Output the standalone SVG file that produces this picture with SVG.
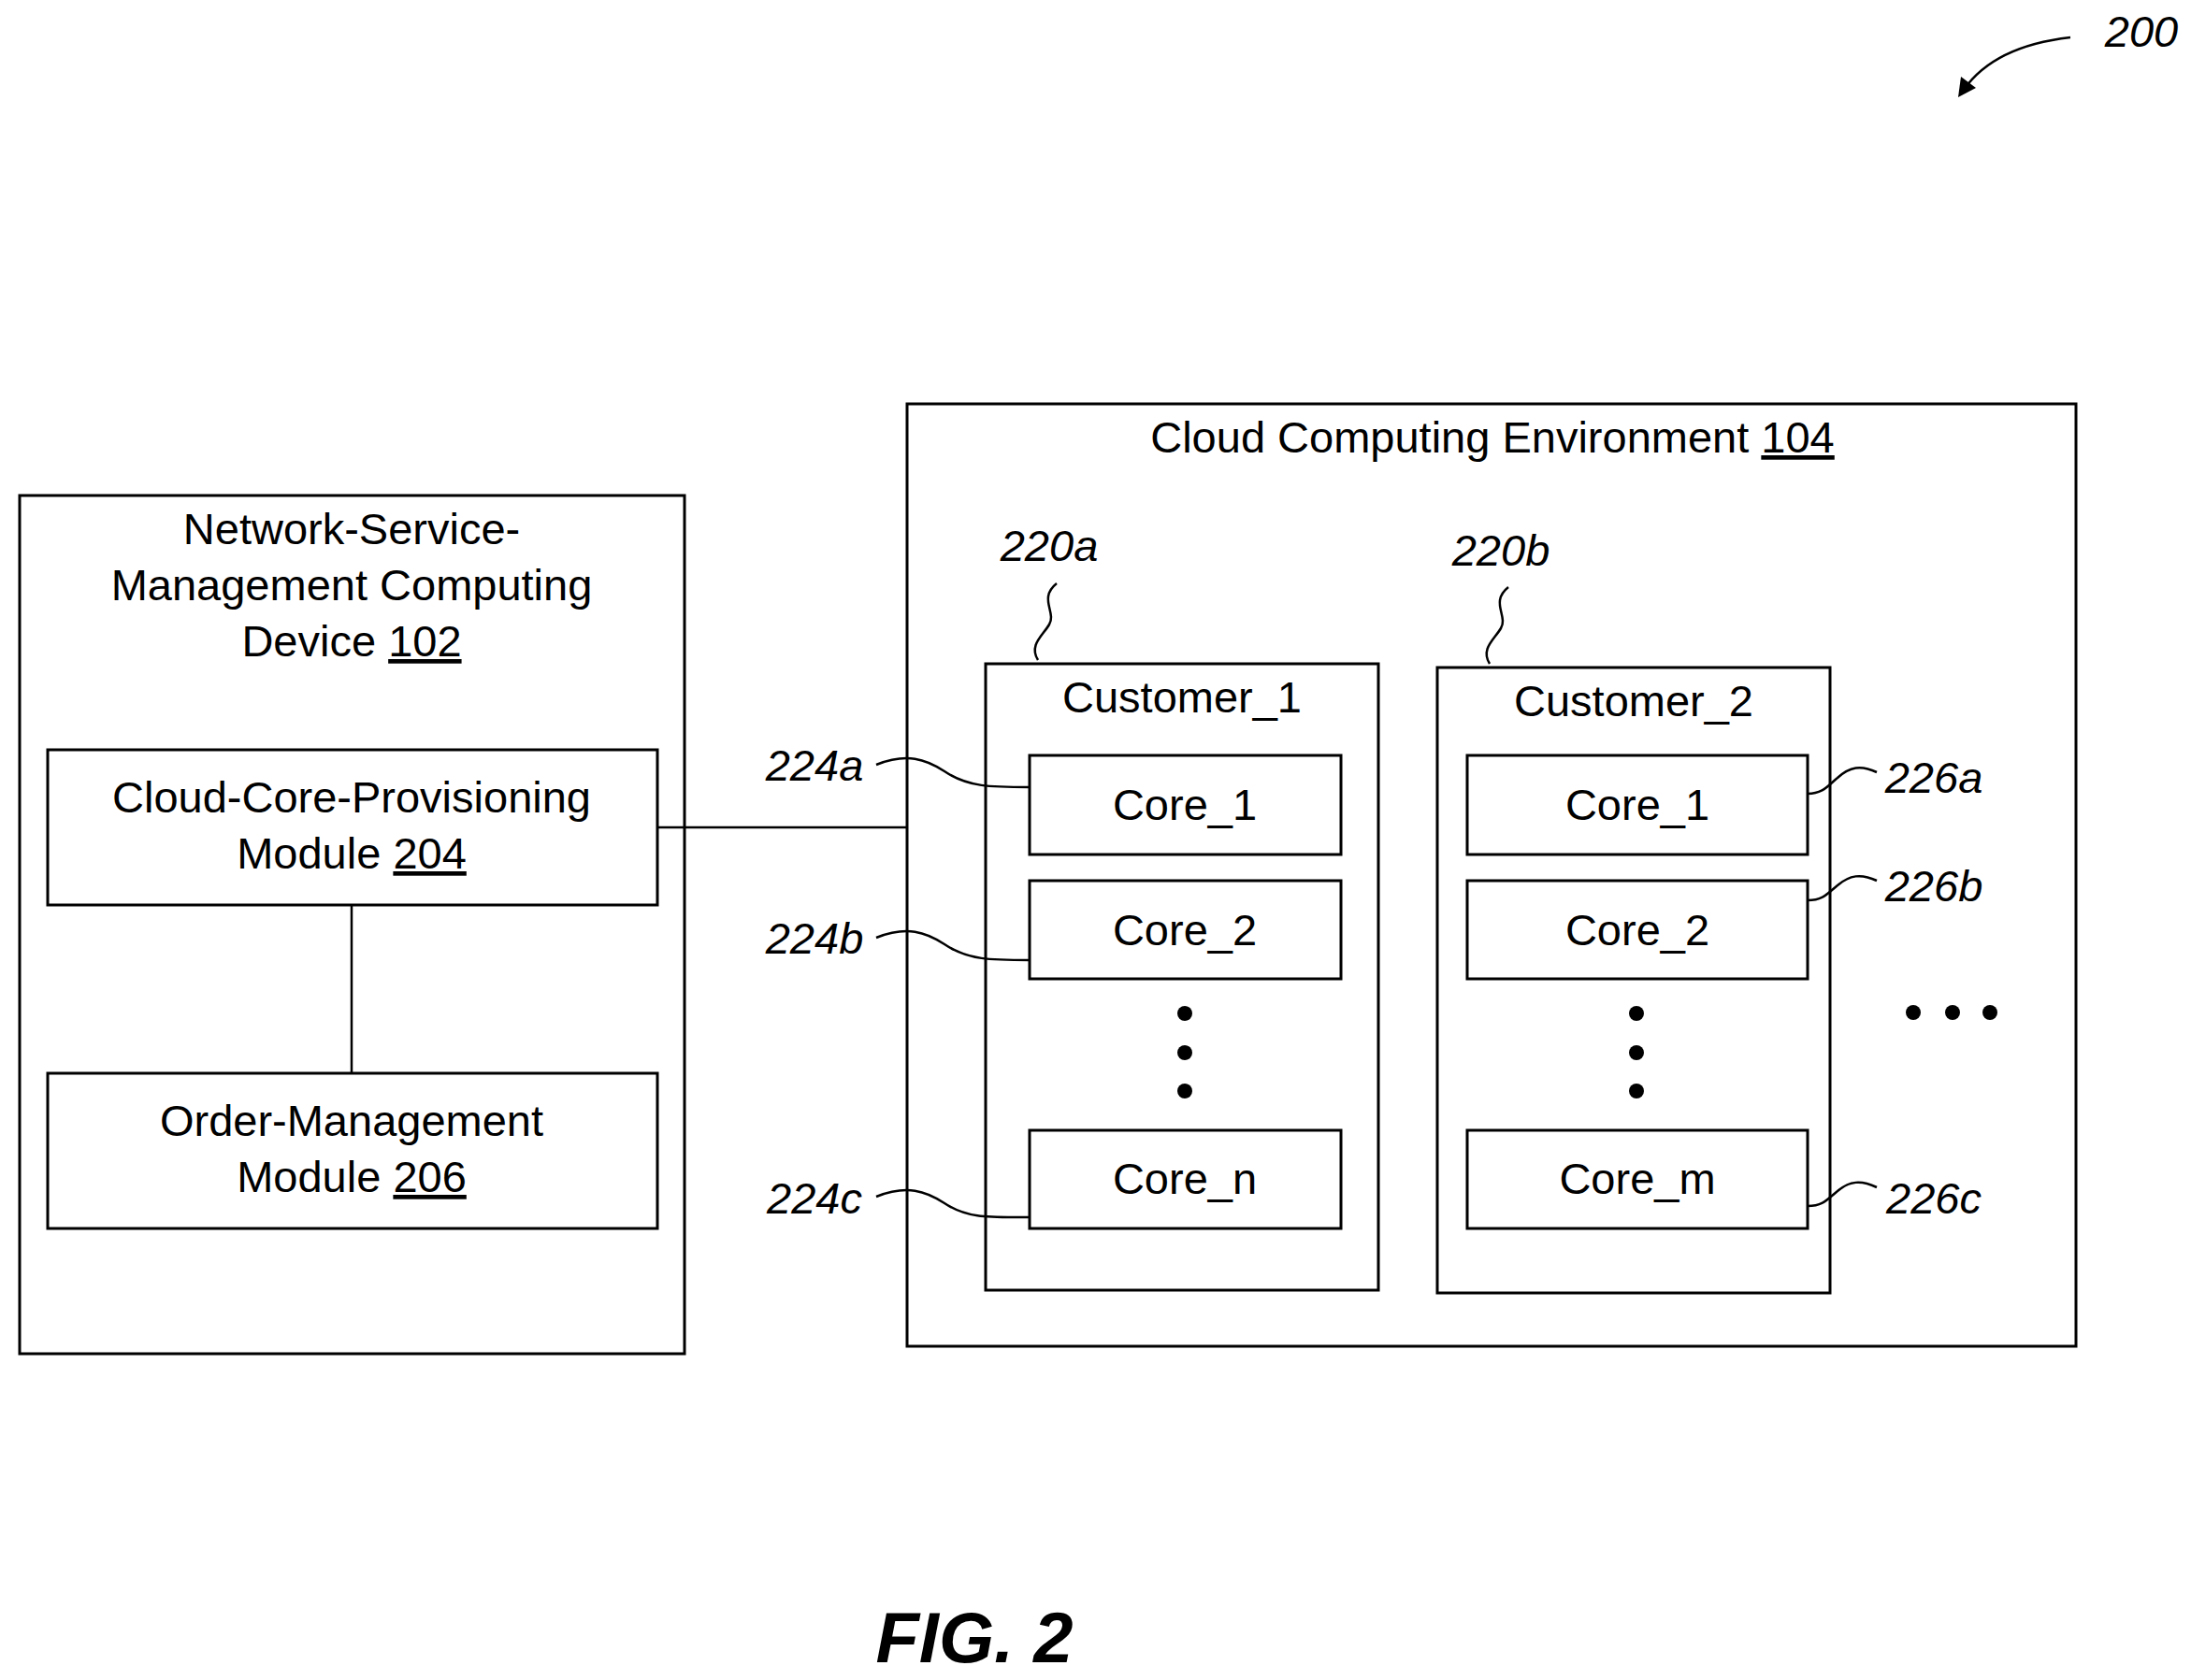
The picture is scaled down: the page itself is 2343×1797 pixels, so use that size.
<svg xmlns="http://www.w3.org/2000/svg" width="2343" height="1797" viewBox="0 0 2343 1797">
<style>
rect{fill:none;stroke:#000;stroke-width:3}
rect.bg{fill:#fff;stroke:none}
text{font-family:"Liberation Sans",Arial,sans-serif;font-size:47px;fill:#000;text-anchor:middle}
.l{font-style:italic}
.c path,.c line{fill:none;stroke:#000;stroke-width:2.5}
.c path.ah{fill:#000;stroke:none}
.u{text-decoration:underline}
</style>
<rect class="bg" width="2343" height="1797"/>
<g id="nsm">
<rect x="21" y="530" width="711" height="918"/>
<text x="376" y="582">Network-Service-</text>
<text x="376" y="642">Management Computing</text>
<text x="376" y="702">Device <tspan class="u">102</tspan></text>
</g>
<g id="ccp">
<rect x="51" y="802" width="652" height="166"/>
<text x="376" y="869">Cloud-Core-Provisioning</text>
<text x="376" y="929">Module <tspan class="u">204</tspan></text>
</g>
<g id="om">
<rect x="51" y="1148" width="652" height="166"/>
<text x="376" y="1215">Order-Management</text>
<text x="376" y="1275">Module <tspan class="u">206</tspan></text>
</g>
<g id="cce">
<rect x="970" y="432" width="1250" height="1008"/>
<text x="1596" y="484">Cloud Computing Environment <tspan class="u">104</tspan></text>
</g>
<g id="cust1">
<rect x="1054" y="710" width="420" height="670"/>
<text x="1264" y="762">Customer_1</text>
</g>
<g id="cust2">
<rect x="1537" y="714" width="420" height="669"/>
<text x="1747" y="766">Customer_2</text>
</g>
<g id="c1core1"><rect x="1101" y="808" width="333" height="106"/><text x="1267" y="877">Core_1</text></g>
<g id="c1core2"><rect x="1101" y="942" width="333" height="105"/><text x="1267" y="1011">Core_2</text></g>
<g id="c1coren"><rect x="1101" y="1209" width="333" height="105"/><text x="1267" y="1277">Core_n</text></g>
<g id="c2core1"><rect x="1569" y="808" width="364" height="106"/><text x="1751" y="877">Core_1</text></g>
<g id="c2core2"><rect x="1569" y="942" width="364" height="105"/><text x="1751" y="1011">Core_2</text></g>
<g id="c2corem"><rect x="1569" y="1209" width="364" height="105"/><text x="1751" y="1277">Core_m</text></g>
<g id="dots">
<circle cx="1267" cy="1084" r="8"/><circle cx="1267" cy="1126" r="8"/><circle cx="1267" cy="1167" r="8"/>
<circle cx="1750" cy="1084" r="8"/><circle cx="1750" cy="1126" r="8"/><circle cx="1750" cy="1167" r="8"/>
<circle cx="2046" cy="1083" r="8"/><circle cx="2088" cy="1083" r="8"/><circle cx="2128" cy="1083" r="8"/>
</g>
<g id="labels" class="l">
<text x="1122" y="600">220a</text>
<text x="1605" y="605">220b</text>
<text x="871" y="835">224a</text>
<text x="871" y="1020">224b</text>
<text x="871" y="1298">224c</text>
<text x="2068" y="848">226a</text>
<text x="2068" y="964">226b</text>
<text x="2068" y="1298">226c</text>
<text x="2290" y="50">200</text>
<text x="1042" y="1778" style="font-weight:bold;font-size:76px">FIG. 2</text>
</g>
<g id="connectors" class="c">
<line x1="376" y1="968" x2="376" y2="1148"/>
<line x1="703" y1="885" x2="970" y2="885"/>
<path d="M1110,706 C1100,690 1115,680 1122,668 C1130,655 1110,640 1130,624"/>
<path d="M1593,710 C1583,694 1598,684 1605,672 C1613,659 1593,644 1613,628"/>
<path d="M937,818 C970,805 990,812 1010,825 C1035,842 1060,842 1101,842"/>
<path d="M937,1003 C970,990 990,997 1010,1010 C1035,1027 1060,1027 1101,1027"/>
<path d="M937,1280 C970,1267 990,1274 1010,1287 C1035,1304 1060,1302 1101,1302"/>
<path d="M1933,849 C1950,849 1955,840 1965,832 C1978,820 1990,818 2007,826"/>
<path d="M1933,963 C1950,963 1955,955 1965,947 C1978,936 1990,934 2007,942"/>
<path d="M1933,1290 C1950,1290 1955,1282 1965,1274 C1978,1263 1990,1262 2007,1270"/>
<path d="M2214,40 C2170,45 2125,60 2100,96"/>
<path class="ah" d="M2094,104 L2097,82 L2113,94 Z"/>
</g>
</svg>
